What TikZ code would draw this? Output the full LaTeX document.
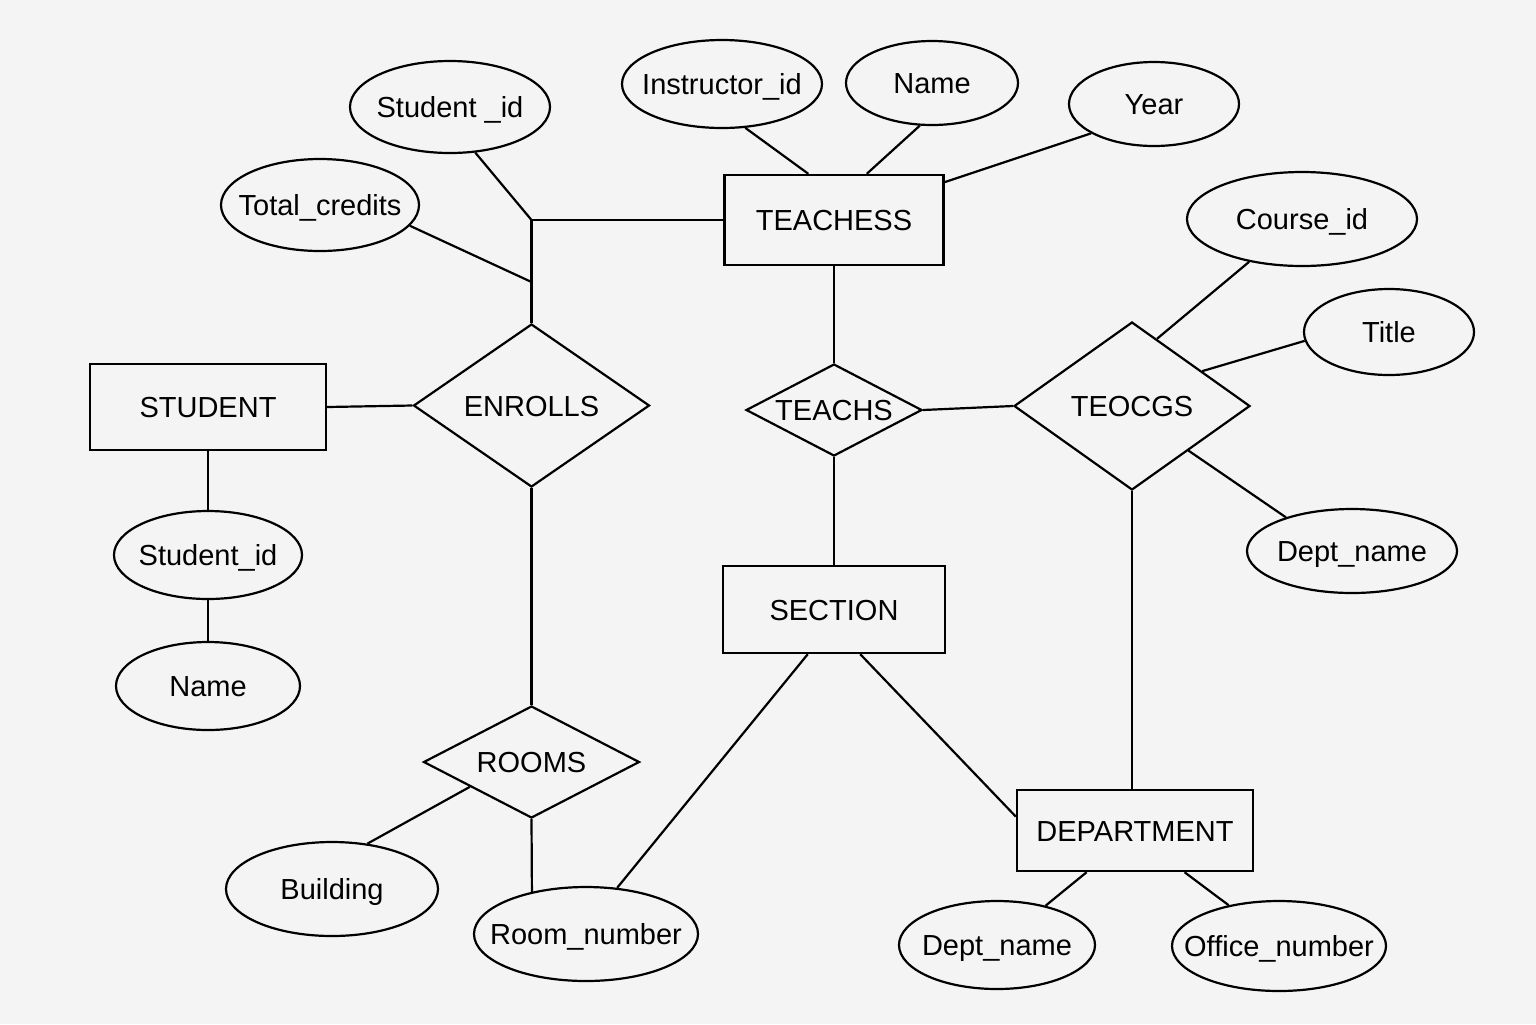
\documentclass[tikz,border=0pt]{standalone}
\usepackage{fontspec}
\setmainfont{Liberation Sans}
\usetikzlibrary{shapes.geometric,calc}
\definecolor{bgc}{HTML}{F4F4F4}
\newcommand\lbl[1]{\makebox[0pt]{#1}}
\begin{document}
\begin{tikzpicture}[x=0.5pt,y=-0.5pt,
  every node/.style={font=\fontsize{14.5}{17}\selectfont, text=black, text height=10.5pt, text depth=0pt},
  attr/.style={draw, ellipse, line width=1.1pt, inner sep=0pt},
  entity/.style={draw, rectangle, line width=1.2pt, inner sep=0pt},
  rel/.style={draw, diamond, line width=1.1pt, inner sep=0pt, aspect=2},
  link/.style={line width=1.1pt}]
\fill[bgc] (0,0) rectangle (1536,1024);
\useasboundingbox (0,0) rectangle (1536,1024);
% entities
\node[entity, minimum width=109.5pt, minimum height=45pt] (teach) at (834,220) {\lbl{TEACHESS}};
\node[entity, minimum width=118pt, minimum height=43pt] (stud) at (208,407) {\lbl{STUDENT}};
\node[entity, minimum width=111pt, minimum height=43.5pt] (sect) at (834,609.5) {\lbl{SECTION}};
\node[entity, minimum width=118pt, minimum height=40.5pt] (dept) at (1135,830.5) {\lbl{DEPARTMENT}};
% relationships
\node[rel, minimum width=118pt, minimum height=81.5pt] (enr) at (531.5,405.5) {\lbl{ENROLLS}};
\node[rel, minimum width=88pt, minimum height=46pt] (tchs) at (834,410) {\lbl{TEACHS}};
\node[rel, minimum width=118pt, minimum height=84pt] (teo) at (1132,406) {\lbl{TEOCGS}};
\node[rel, minimum width=108pt, minimum height=56pt] (rooms) at (531.5,762) {\lbl{ROOMS}};
% attributes
\node[attr, minimum width=100pt, minimum height=46pt] (sidtop) at (450,107) {\lbl{Student \_id}};
\node[attr, minimum width=99pt, minimum height=46pt] (tcred) at (320,205) {\lbl{Total\_credits}};
\node[attr, minimum width=100pt, minimum height=44pt] (iid) at (722,84) {\lbl{Instructor\_id}};
\node[attr, minimum width=86pt, minimum height=42pt] (nametop) at (932,83) {\lbl{Name}};
\node[attr, minimum width=85pt, minimum height=42pt] (year) at (1154,104) {\lbl{Year}};
\node[attr, minimum width=115pt, minimum height=47pt] (cid) at (1302,219) {\lbl{Course\_id}};
\node[attr, minimum width=85pt, minimum height=43pt] (title) at (1389,332) {\lbl{Title}};
\node[attr, minimum width=105pt, minimum height=42pt] (dnr) at (1352,551) {\lbl{Dept\_name}};
\node[attr, minimum width=94pt, minimum height=44pt] (sid2) at (208,555) {\lbl{Student\_id}};
\node[attr, minimum width=92pt, minimum height=44pt] (name2) at (208,686) {\lbl{Name}};
\node[attr, minimum width=106pt, minimum height=47pt] (bldg) at (332,889) {\lbl{Building}};
\node[attr, minimum width=112pt, minimum height=47pt] (rnum) at (586,934) {\lbl{Room\_number}};
\node[attr, minimum width=98pt, minimum height=44pt] (dnb) at (997,945) {\lbl{Dept\_name}};
\node[attr, minimum width=107pt, minimum height=45pt] (onum) at (1279,946) {\lbl{Office\_number}};
% junctions
\coordinate (j1) at (enr.north |- teach.west);
\coordinate (j2) at (531.5,282);
% connectors
\draw[link] (sidtop.-61.5) -- (j1);
\draw[link] (j1) -- (teach.west);
\draw[link] (j1) -- (enr.north);
\draw[link] (tcred.-13.4) -- (j2);
\draw[link] (iid.-62.4) -- ($(teach.north west)!0.384!(teach.north east)$);
\draw[link] (nametop.254) -- ($(teach.north west)!0.648!(teach.north east)$);
\draw[link] (year.205.4) -- ($(teach.north east)!0.09!(teach.south east)$);
\draw[link] (teach.south) -- (tchs.north);
\draw[link] (stud.east) -- (enr.west);
\draw[link] (tchs.east) -- (teo.west);
\draw[link] (cid.219.6) -- ($(teo.north)!0.21!(teo.east)$);
\draw[link] (title.186) -- ($(teo.north)!0.59!(teo.east)$);
\draw[link] ($(teo.east)!0.525!(teo.south)$) -- (dnr.153.1);
\draw[link] (stud.south) -- (sid2.north);
\draw[link] (sid2.south) -- (name2.north);
\draw[link] (enr.south) -- (rooms.north);
\draw[link] (tchs.south) -- (sect.north);
\draw[link] (teo.south) -- (teo.south |- dept.north);
\draw[link] ($(sect.south west)!0.383!(sect.south east)$) -- (rnum.56.6);
\draw[link] ($(sect.south west)!0.617!(sect.south east)$) -- ($(dept.north west)!0.333!(dept.south west)$);
\draw[link] ($(rooms.west)!0.435!(rooms.south)$) -- (bldg.52.7);
\draw[link] (rooms.south) -- (rnum.142);
\draw[link] ($(dept.south west)!0.297!(dept.south east)$) -- (dnb.39);
\draw[link] ($(dept.south west)!0.708!(dept.south east)$) -- (onum.141.5);
\end{tikzpicture}
\end{document}
